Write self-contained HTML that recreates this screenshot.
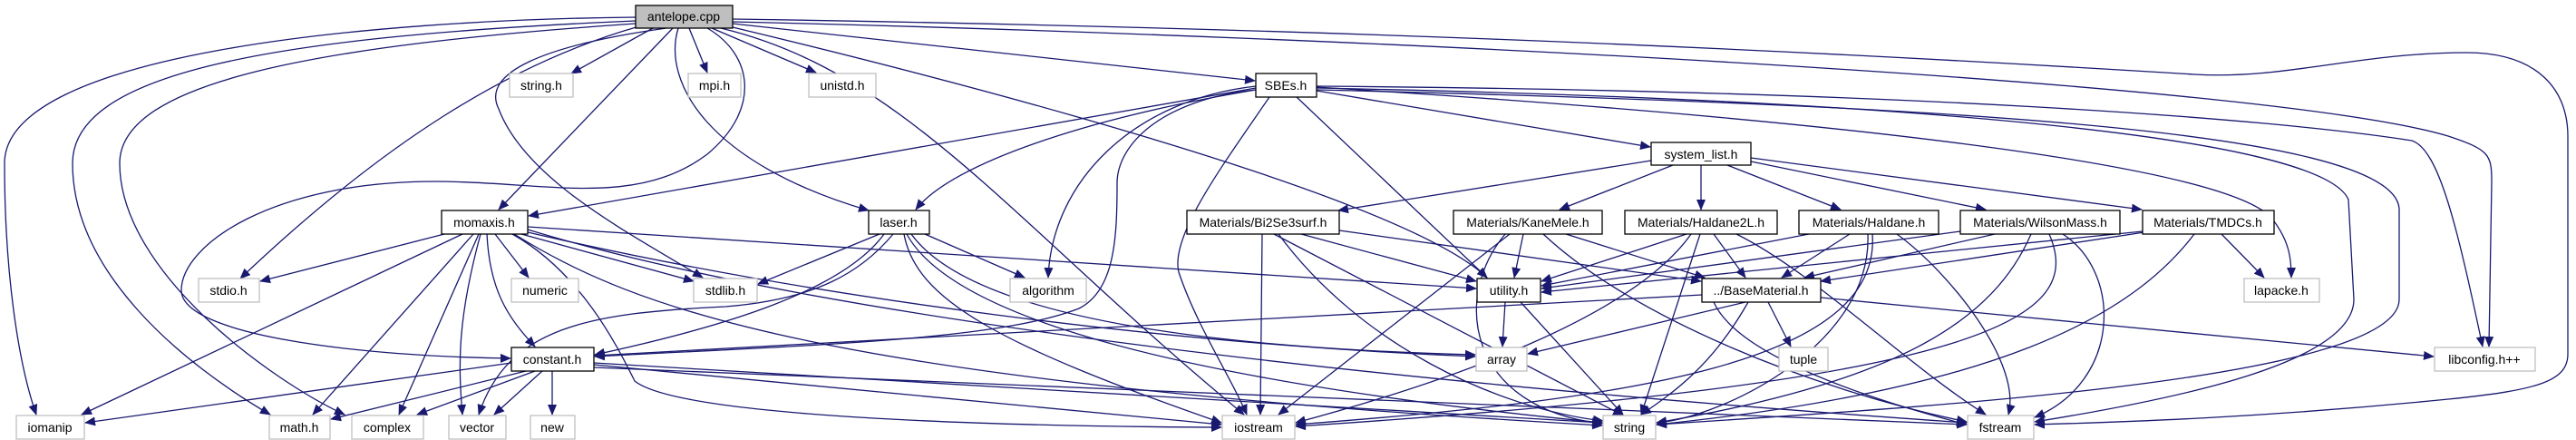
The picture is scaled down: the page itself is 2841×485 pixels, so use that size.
<!DOCTYPE html>
<html><head><meta charset="utf-8"><style>
html,body{margin:0;padding:0;background:#fff;}
svg{display:block;}
text{font-family:"Liberation Sans","DejaVu Sans",sans-serif;font-size:14px;fill:#000;}
</style></head><body>
<svg width="2841" height="485" viewBox="0 0 2841 485" xmlns="http://www.w3.org/2000/svg">
<defs>
<marker id="a" markerWidth="12" markerHeight="10" refX="11" refY="5" orient="auto" markerUnits="userSpaceOnUse">
<path d="M0,0 L12,5 L0,10 Z" fill="#191970"/>
</marker>
</defs>
<g fill="none" stroke="#191970" stroke-width="1.3" marker-end="url(#a)">
<!-- antelope.cpp -->
<path d="M701,19 C400,22 5,60 5,180 C5,300 20,400 40,457"/>
<path d="M701,23 C300,40 80,80 80,180 C80,300 200,400 298,457"/>
<path d="M701,26 C350,50 132,90 132,180 C132,300 300,420 380,457"/>
<path d="M705,29 C560,70 420,160 265,307"/>
<path d="M780,31 C830,60 840,120 780,170 C700,230 600,200 480,200 C300,200 200,270 200,320 C200,370 400,393 563,395"/>
<path d="M735,31 C600,50 530,80 550,120 C580,200 700,260 775,306"/>
<path d="M720,31 L630,81"/>
<path d="M742,31 L550,231"/>
<path d="M760,31 L780,80"/>
<path d="M785,31 L900,80"/>
<path d="M748,31 C730,90 780,180 958,232"/>
<path d="M808,26 L1384,89"/>
<path d="M808,30 C1100,100 1550,220 1640,306"/>
<path d="M795,31 C1000,80 1120,250 1372,457"/>
<path d="M808,21 C1400,30 1900,50 2420,82 C2520,88 2600,58 2720,58 C2800,58 2832,100 2832,150 L2832,390 C2832,420 2800,430 2700,440 C2500,460 2350,465 2244,468"/>
<path d="M808,24 C1500,40 2500,90 2700,150 C2745,165 2748,170 2748,200 L2745,382"/>
<!-- SBEs.h -->
<path d="M1385,97 L583,238"/>
<path d="M1385,99 C1200,130 1050,180 1010,231"/>
<path d="M1385,95 C1250,110 1160,200 1156,306"/>
<path d="M1385,99 C1280,110 1232,160 1232,202 C1232,260 1230,320 1190,340 C1100,375 900,380 656,393"/>
<path d="M1400,107 C1350,180 1290,260 1300,300 C1320,360 1360,420 1375,457"/>
<path d="M1430,107 L1640,306"/>
<path d="M1452,100 L1820,162"/>
<path d="M1452,96 C2000,130 2450,180 2505,240 C2525,265 2527,285 2527,306"/>
<path d="M1452,97 C2100,110 2560,150 2590,220 L2596,330 C2596,400 2400,440 2244,465"/>
<path d="M1452,95 C2100,100 2500,130 2660,155 C2690,165 2710,250 2738,382"/>
<path d="M1452,99 C2100,115 2640,140 2646,230 L2646,330 C2646,420 2100,450 1827,468"/>
<!-- system_list.h -->
<path d="M1821,177 L1476,232"/>
<path d="M1845,182 L1720,231"/>
<path d="M1876,182 L1876,231"/>
<path d="M1905,182 L2030,231"/>
<path d="M1931,178 L2190,231"/>
<path d="M1931,174 L2362,231"/>
<!-- momaxis.h -->
<path d="M490,258 L287,310"/>
<path d="M510,258 L90,457"/>
<path d="M522,258 L345,457"/>
<path d="M528,258 L440,457"/>
<path d="M530,258 C505,350 505,400 510,457"/>
<path d="M537,258 C540,320 560,350 590,382"/>
<path d="M546,258 L583,306"/>
<path d="M575,258 L765,310"/>
<path d="M582,250 L1628,318"/>
<path d="M582,256 C900,330 1300,380 1627,393"/>
<path d="M565,258 C640,300 680,380 700,420 C750,460 1100,470 1347,471"/>
<path d="M567,258 C700,340 900,420 1767,469"/>
<path d="M582,253 C900,350 1500,420 2169,466"/>
<!-- laser.h -->
<path d="M970,258 L836,313"/>
<path d="M1020,258 L1130,306"/>
<path d="M975,258 C930,320 800,360 656,391"/>
<path d="M985,258 C950,300 900,330 800,338 C650,345 560,360 528,457"/>
<path d="M997,258 C1010,330 1100,380 1347,466"/>
<path d="M1000,258 C1050,350 1300,420 1767,466"/>
<path d="M1005,258 C1050,320 1200,380 1627,391"/>
<!-- Bi2Se3surf -->
<path d="M1392,258 L1390,457"/>
<path d="M1405,258 L1790,458"/>
<path d="M1410,258 C1500,380 1650,450 1768,464"/>
<path d="M1435,258 L1628,310"/>
<path d="M1477,254 L1876,310"/>
<!-- KaneMele -->
<path d="M1665,258 L1410,457"/>
<path d="M1680,258 L1670,306"/>
<path d="M1727,258 L1880,306"/>
<path d="M1660,258 C1600,330 1620,450 1767,467"/>
<path d="M1702,258 C1800,350 2000,430 2169,465"/>
<!-- Haldane2L -->
<path d="M1860,258 L1700,310"/>
<path d="M1890,258 L1925,306"/>
<path d="M1865,258 C1800,350 1600,420 1429,466"/>
<path d="M1875,258 L1810,457"/>
<path d="M1915,258 C2000,300 2100,400 2190,457"/>
<!-- Haldane -->
<path d="M1995,258 L1700,315"/>
<path d="M2040,258 L1965,306"/>
<path d="M2060,258 C2065,380 1900,460 1827,466"/>
<path d="M2065,258 C2075,400 1800,440 1429,468"/>
<path d="M2092,258 C2150,300 2230,400 2215,457"/>
<!-- WilsonMass -->
<path d="M2162,255 L1700,318"/>
<path d="M2200,258 L1990,306"/>
<path d="M2240,258 C2200,350 2100,420 1827,466"/>
<path d="M2260,258 C2300,350 2200,420 1429,470"/>
<path d="M2275,258 C2340,300 2340,420 2244,460"/>
<!-- TMDCs -->
<path d="M2363,255 L1700,322"/>
<path d="M2365,256 L2008,310"/>
<path d="M2450,258 L2497,306"/>
<path d="M2420,258 C2350,350 2200,430 1827,468"/>
<!-- utility.h -->
<path d="M1660,333 L1657,382"/>
<path d="M1677,333 L1790,457"/>
<!-- BaseMaterial.h -->
<path d="M1877,325 L656,392"/>
<path d="M1925,333 L1685,390"/>
<path d="M1950,333 L1975,382"/>
<path d="M2008,328 L2684,393"/>
<path d="M1928,333 C1890,400 1850,430 1810,457"/>
<path d="M1890,333 C1920,400 2100,450 2169,468"/>
<!-- constant.h -->
<path d="M564,400 L94,466"/>
<path d="M580,409 L365,462"/>
<path d="M590,409 L460,457"/>
<path d="M598,409 L545,457"/>
<path d="M609,409 L609,457"/>
<path d="M655,402 L1347,468"/>
<path d="M655,400 L1767,466"/>
<path d="M655,405 L2169,468"/>
</g>
<g stroke-width="1.3">
<rect x="701" y="6" width="107" height="25" fill="#bfbfbf" stroke="#000"/>
<g fill="#fff" stroke="#000">
<rect x="1385" y="81" width="67" height="26"/>
<rect x="1821" y="157" width="110" height="25"/>
<rect x="487" y="232" width="95" height="26"/>
<rect x="958" y="232" width="67" height="26"/>
<rect x="1309" y="232" width="168" height="26"/>
<rect x="1603" y="232" width="164" height="26"/>
<rect x="1792" y="232" width="168" height="26"/>
<rect x="1984" y="232" width="154" height="26"/>
<rect x="2162" y="232" width="176" height="26"/>
<rect x="2363" y="232" width="145" height="26"/>
<rect x="1629" y="307" width="70" height="26"/>
<rect x="1877" y="307" width="131" height="26"/>
<rect x="564" y="383" width="91" height="26"/>
</g>
<g fill="#fff" stroke="#bfbfbf">
<rect x="562" y="81" width="70" height="26"/>
<rect x="759" y="81" width="58" height="26"/>
<rect x="892" y="81" width="74" height="26"/>
<rect x="219" y="307" width="67" height="26"/>
<rect x="564" y="307" width="74" height="26"/>
<rect x="765" y="307" width="70" height="26"/>
<rect x="1114" y="307" width="84" height="26"/>
<rect x="2475" y="307" width="83" height="26"/>
<rect x="1628" y="383" width="56" height="26"/>
<rect x="1962" y="383" width="54" height="26"/>
<rect x="2685" y="383" width="111" height="26"/>
<rect x="18" y="458" width="75" height="26"/>
<rect x="297" y="458" width="67" height="26"/>
<rect x="388" y="458" width="79" height="26"/>
<rect x="495" y="458" width="63" height="26"/>
<rect x="585" y="458" width="49" height="26"/>
<rect x="1348" y="458" width="80" height="26"/>
<rect x="1768" y="458" width="58" height="26"/>
<rect x="2170" y="458" width="73" height="26"/>
</g>
</g>
<g text-anchor="middle">
<text x="754" y="23">antelope.cpp</text>
<text x="1418" y="99">SBEs.h</text>
<text x="1876" y="175">system_list.h</text>
<text x="534" y="250">momaxis.h</text>
<text x="991" y="250">laser.h</text>
<text x="1393" y="250">Materials/Bi2Se3surf.h</text>
<text x="1685" y="250">Materials/KaneMele.h</text>
<text x="1876" y="250">Materials/Haldane2L.h</text>
<text x="2061" y="250">Materials/Haldane.h</text>
<text x="2250" y="250">Materials/WilsonMass.h</text>
<text x="2435" y="250">Materials/TMDCs.h</text>
<text x="1664" y="325">utility.h</text>
<text x="1942" y="325">../BaseMaterial.h</text>
<text x="609" y="401">constant.h</text>
<text x="597" y="99">string.h</text>
<text x="788" y="99">mpi.h</text>
<text x="929" y="99">unistd.h</text>
<text x="252" y="325">stdio.h</text>
<text x="601" y="325">numeric</text>
<text x="800" y="325">stdlib.h</text>
<text x="1156" y="325">algorithm</text>
<text x="2516" y="325">lapacke.h</text>
<text x="1656" y="401">array</text>
<text x="1989" y="401">tuple</text>
<text x="2740" y="401">libconfig.h++</text>
<text x="55" y="476">iomanip</text>
<text x="330" y="476">math.h</text>
<text x="427" y="476">complex</text>
<text x="526" y="476">vector</text>
<text x="609" y="476">new</text>
<text x="1388" y="476">iostream</text>
<text x="1797" y="476">string</text>
<text x="2206" y="476">fstream</text>
</g>
</svg>
</body></html>
